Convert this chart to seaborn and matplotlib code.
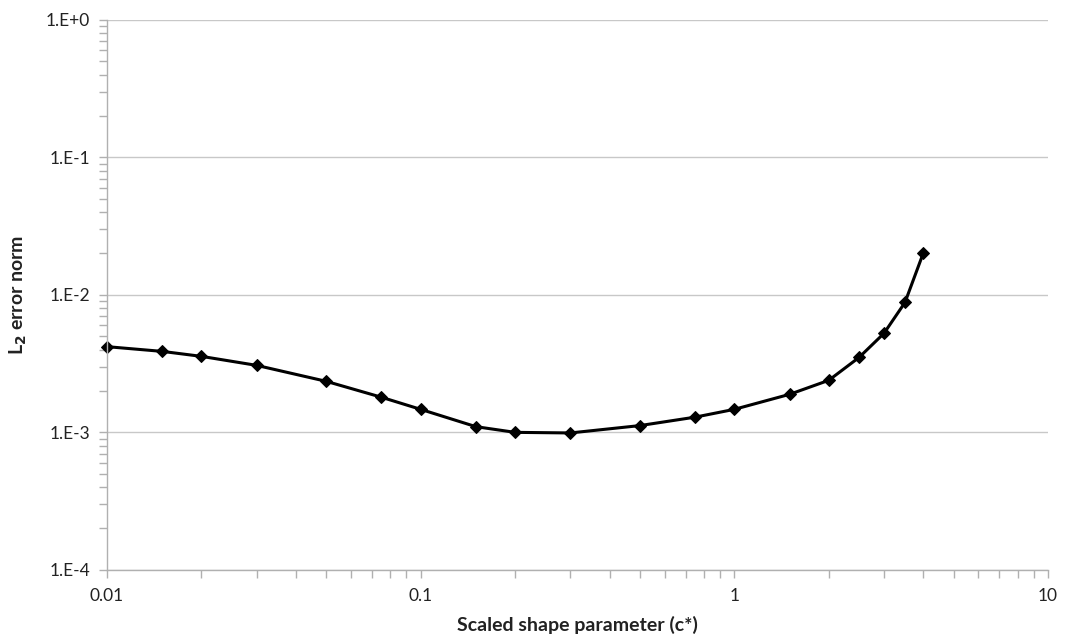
import matplotlib
matplotlib.use("Agg")
import matplotlib.pyplot as plt
import matplotlib.ticker as mticker
import seaborn as sns
import pandas as pd
import numpy as np

c_star = [0.01, 0.015, 0.02, 0.03, 0.05, 0.075, 0.1, 0.15, 0.2, 0.3, 0.5, 0.75,
          1.0, 1.5, 2.0, 2.5, 3.0, 3.5, 4.0]
l2_error = [4.2e-3, 3.88e-3, 3.57e-3, 3.07e-3, 2.35e-3, 1.8e-3, 1.47e-3, 1.1e-3,
            1.0e-3, 0.99e-3, 1.12e-3, 1.29e-3, 1.47e-3, 1.89e-3, 2.39e-3, 3.51e-3,
            5.25e-3, 8.8e-3, 2.0e-2]
y_ticks = [1e-4, 1e-3, 1e-2, 1e-1, 1e0]
y_tick_labels = ["1.E-4", "1.E-3", "1.E-2", "1.E-1", "1.E+0"]
x_ticks = [0.01, 0.1, 1, 10]
x_tick_labels = ["0.01", "0.1", "1", "10"]

df = pd.DataFrame({"c": c_star, "err": l2_error})

sns.set_theme(style="white")
plt.rcParams['font.family'] = ['Lato', 'DejaVu Sans']

fig = plt.figure(figsize=(10.65, 6.41), dpi=100)
ax = fig.add_axes([0.1005, 0.111, 0.8835, 0.858])

sns.lineplot(data=df, x="c", y="err", ax=ax, color="black", linewidth=2.2,
             marker="D", markersize=6, markeredgecolor="black", markerfacecolor="black")
for ln in ax.lines:
    ln.set_clip_on(False)

ax.set_xscale("log")
ax.set_yscale("log")
ax.set_xlim(0.01, 10)
ax.set_ylim(1e-4, 1)

ax.set_yticks(y_ticks)
ax.set_yticklabels(y_tick_labels)
ax.set_xticks(x_ticks)
ax.set_xticklabels(x_tick_labels)
ax.xaxis.set_minor_locator(mticker.LogLocator(base=10, subs=np.arange(2, 10)))
ax.yaxis.set_minor_locator(mticker.LogLocator(base=10, subs=np.arange(2, 10)))
ax.xaxis.set_minor_formatter(mticker.NullFormatter())
ax.yaxis.set_minor_formatter(mticker.NullFormatter())

ax.grid(True, which="major", axis="y", color="#c8c8c8", linewidth=1.0)
ax.grid(False, axis="x")
ax.set_axisbelow(True)

for s in ["top", "right"]:
    ax.spines[s].set_visible(False)
for s in ["left", "bottom"]:
    ax.spines[s].set_color("#b0b0b0")
    ax.spines[s].set_linewidth(1.0)

ax.tick_params(axis="both", which="both", bottom=True, left=True, top=False, right=False)
ax.tick_params(axis="both", which="major", direction="out", length=6, width=1,
               color="#b0b0b0", labelsize=12.5, labelcolor="#222222", pad=6)
ax.tick_params(axis="both", which="minor", direction="out", length=6, width=1,
               color="#b0b0b0")
ax.tick_params(axis="x", which="major", pad=7)

ax.set_xlabel("Scaled shape parameter (c*)", fontsize=14, fontweight="bold",
              color="#222222", labelpad=9)
ax.set_ylabel("L$_\\mathbf{2}$ error norm", fontsize=14, fontweight="bold",
              color="#222222", labelpad=12)

fig.savefig("out.png", dpi=100)
